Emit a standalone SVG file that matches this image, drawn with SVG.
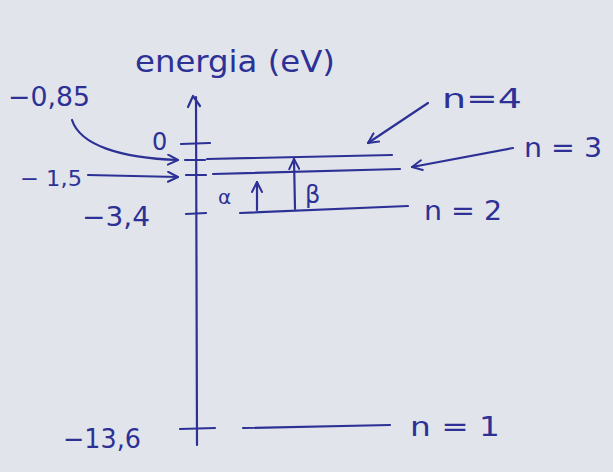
<svg xmlns="http://www.w3.org/2000/svg" width="613" height="472" viewBox="0 0 613 472">
<defs>
<style>
.ink{stroke:#2d3196;stroke-width:2.2;fill:none;stroke-linecap:round;stroke-linejoin:round}
.t{fill:#2d3196;font-family:"DejaVu Sans","Liberation Sans",sans-serif}
</style>
<marker id="ah" viewBox="0 0 12 12" refX="11" refY="6" markerWidth="12" markerHeight="12" markerUnits="userSpaceOnUse" orient="auto">
<path d="M1,1 L11,6 L1,11" stroke="#2d3196" stroke-width="2" fill="none" stroke-linecap="round" stroke-linejoin="round"/>
</marker>
</defs>
<rect width="613" height="472" fill="#e1e5eb"/>
<g id="axis">
<path class="ink" d="M196,97 L197,445"/>
<path class="ink" d="M188,107 L193,96 L200,106"/>
<text class="t" x="135" y="72" font-size="30" textLength="200" lengthAdjust="spacingAndGlyphs">energia (eV)</text>
</g>
<g id="tick-0">
<path class="ink" d="M181,144 L210,143"/>
<text class="t" x="152" y="150" font-size="24">0</text>
</g>
<g id="tick-085">
<path class="ink" d="M185,160 L205,160"/>
<text class="t" x="8" y="106" font-size="26" textLength="82" lengthAdjust="spacingAndGlyphs">−0,85</text>
</g>
<g id="tick-15">
<path class="ink" d="M186,175 L206,175"/>
<text class="t" x="20" y="186" font-size="22" textLength="62" lengthAdjust="spacingAndGlyphs">− 1,5</text>
</g>
<g id="tick-34">
<path class="ink" d="M186,214 L206,213"/>
<text class="t" x="82" y="226" font-size="26" textLength="68" lengthAdjust="spacingAndGlyphs">−3,4</text>
</g>
<g id="tick-136">
<path class="ink" d="M180,429 L215,428"/>
<text class="t" x="63" y="448" font-size="26" textLength="78" lengthAdjust="spacingAndGlyphs">−13,6</text>
</g>
<g id="level-n4">
<path class="ink" d="M207,159 L392,155"/>
<text class="t" x="442" y="108" font-size="26" textLength="80" lengthAdjust="spacingAndGlyphs">n=4</text>
</g>
<g id="level-n3">
<path class="ink" d="M213,174 L400,169"/>
<text class="t" x="524" y="157" font-size="26" textLength="78" lengthAdjust="spacingAndGlyphs">n = 3</text>
</g>
<g id="level-n2">
<path class="ink" d="M240,213 L408,206"/>
<text class="t" x="424" y="220" font-size="26" textLength="78" lengthAdjust="spacingAndGlyphs">n = 2</text>
</g>
<g id="level-n1">
<path class="ink" d="M243,428 L390,425"/>
<text class="t" x="410" y="436" font-size="26" textLength="90" lengthAdjust="spacingAndGlyphs">n = 1</text>
</g>
<g id="alpha">
<text class="t" x="218" y="204" font-size="20">α</text>
</g>
<g id="beta">
<text class="t" x="305" y="203" font-size="24">β</text>
</g>
<g id="connectors">
<path class="ink" d="M72,120 C80,145 120,158 178,160" marker-end="url(#ah)"/>
<path class="ink" d="M88,175 L178,177" marker-end="url(#ah)"/>
<path class="ink" d="M257,210 L257,182" marker-end="url(#ah)"/>
<path class="ink" d="M295,209 L294,159" marker-end="url(#ah)"/>
<path class="ink" d="M428,103 L368,143" marker-end="url(#ah)"/>
<path class="ink" d="M513,148 L412,167" marker-end="url(#ah)"/>
</g>
</svg>
